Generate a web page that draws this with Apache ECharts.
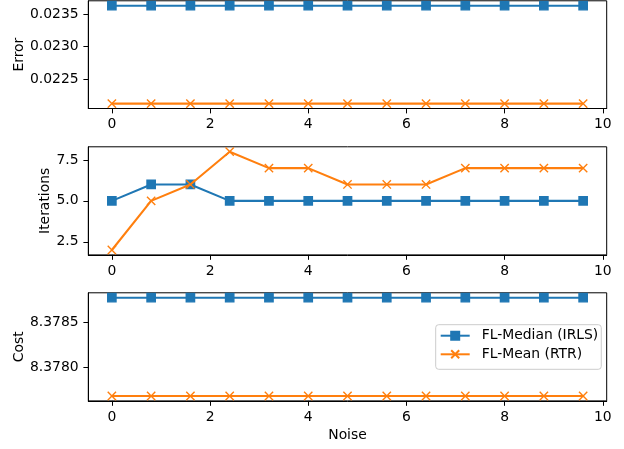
<!DOCTYPE html>
<html>
<head>
<meta charset="utf-8">
<script src="https://cdn.jsdelivr.net/npm/echarts@6/dist/echarts.min.js"></script>
<style>
html,body{margin:0;padding:0;background:#fff;}
#chart{width:624px;height:449px;}
</style>
</head>
<body>
<div id="chart"></div>
<script>
const noise = [0, 0.8, 1.6, 2.4, 3.2, 4.0, 4.8, 5.6, 6.4, 7.2, 8.0, 8.8, 9.6];
const errorIRLS = [0.023628, 0.023628, 0.023628, 0.023628, 0.023628, 0.023628, 0.023628, 0.023628, 0.023628, 0.023628, 0.023628, 0.023628, 0.023628];
const errorRTR = [0.02212, 0.02212, 0.02212, 0.02212, 0.02212, 0.02212, 0.02212, 0.02212, 0.02212, 0.02212, 0.02212, 0.02212, 0.02212];
const itersIRLS = [5, 6, 6, 5, 5, 5, 5, 5, 5, 5, 5, 5, 5];
const itersRTR = [2, 5, 6, 8, 7, 7, 6, 6, 6, 7, 7, 7, 7];
const costIRLS = [8.378775, 8.378775, 8.378775, 8.378775, 8.378775, 8.378775, 8.378775, 8.378775, 8.378775, 8.378775, 8.378775, 8.378775, 8.378775];
const costRTR = [8.377676, 8.377676, 8.377676, 8.377676, 8.377676, 8.377676, 8.377676, 8.377676, 8.377676, 8.377676, 8.377676, 8.377676, 8.377676];

const xTicks = [0, 2, 4, 6, 8, 10];
const errorTicks = [0.0225, 0.0230, 0.0235];
const iterTicks = [2.5, 5.0, 7.5];
const costTicks = [8.3780, 8.3785];

const seriesNames = ['FL-Median (IRLS)', 'FL-Mean (RTR)'];
const yNames = ['Error', 'Iterations', 'Cost'];
const xName = 'Noise';

const BLUE = '#1f77b4', ORANGE = '#ff7f0e';
const FONT = 'DejaVu Sans';
const FS = 13.9;

function lim(a, b) {
  const all = a.concat(b);
  const lo = Math.min(...all), hi = Math.max(...all);
  const m = (hi - lo) * 0.05;
  return [lo - m, hi + m];
}
const xl = [Math.min(...noise) - (Math.max(...noise) - Math.min(...noise)) * 0.05,
            Math.max(...noise) + (Math.max(...noise) - Math.min(...noise)) * 0.05];

const grids = [
  {left: 88.3, right: 17.3, top: 0.8, height: 107.7},
  {left: 88.3, right: 17.3, top: 146.8, height: 108.1},
  {left: 88.3, right: 17.3, top: 292.8, height: 108.1}
].map(g => Object.assign(g, {show: true, borderColor: '#000', borderWidth: 1, backgroundColor: 'transparent',
  containLabel: false, outerBoundsMode: 'none'}));

const axisCommon = {
  axisLine: {show: true, onZero: false, lineStyle: {color: '#000', width: 1}},
  axisTick: {show: true, inside: false, length: 4.9, lineStyle: {color: '#000', width: 1}},
  splitLine: {show: false},
  axisLabel: {color: '#000', fontFamily: FONT, fontSize: FS, hideOverlap: false},
  nameTextStyle: {color: '#000', fontFamily: FONT, fontSize: FS},
  nameMoveOverlap: false
};

function xAxis(i, withName) {
  return Object.assign({}, axisCommon, {
    type: 'value', gridIndex: i, min: xl[0], max: xl[1],
    axisTick: Object.assign({}, axisCommon.axisTick, {customValues: xTicks}),
    axisLabel: Object.assign({}, axisCommon.axisLabel, {customValues: xTicks, margin: 9, formatter: v => String(Math.round(v))}),
    name: withName ? xName : '', nameLocation: 'middle', nameGap: 27
  });
}
function yAxis(i, ticks, l, dec, gap) {
  return Object.assign({}, axisCommon, {
    type: 'value', gridIndex: i, min: l[0], max: l[1],
    axisTick: Object.assign({}, axisCommon.axisTick, {customValues: ticks}),
    axisLabel: Object.assign({}, axisCommon.axisLabel, {customValues: ticks, margin: 9.7, formatter: v => v.toFixed(dec)}),
    name: yNames[i], nameLocation: 'middle', nameRotate: 90, nameGap: gap
  });
}

const xMarker = 'path://M0,0L10,10M10,0L0,10';
function mk(data) { return noise.map((x, i) => [x, data[i]]); }
function sBlue(i, data) {
  return {type: 'line', name: seriesNames[0], xAxisIndex: i, yAxisIndex: i, data: mk(data),
    symbol: 'rect', symbolSize: 8.3, showAllSymbol: true,
    lineStyle: {color: BLUE, width: 2.08},
    itemStyle: {color: BLUE, borderColor: BLUE, borderWidth: 1.4}, z: 2};
}
function sOrange(i, data) {
  return {type: 'line', name: seriesNames[1], xAxisIndex: i, yAxisIndex: i, data: mk(data),
    symbol: xMarker, symbolSize: 8.3, showAllSymbol: true,
    lineStyle: {color: ORANGE, width: 2.08},
    itemStyle: {color: ORANGE, borderColor: ORANGE, borderWidth: 1.4}, z: 3};
}

const chart = echarts.init(document.getElementById('chart'), null, {renderer: 'canvas'});
chart.setOption({
  animation: false,
  backgroundColor: '#fff',
  grid: grids,
  xAxis: [xAxis(0, false), xAxis(1, false), xAxis(2, true)],
  yAxis: [
    yAxis(0, errorTicks, lim(errorIRLS, errorRTR), 4, 62),
    yAxis(1, iterTicks, lim(itersIRLS, itersRTR), 1, 36),
    yAxis(2, costTicks, lim(costIRLS, costRTR), 4, 62)
  ],
  legend: {
    data: seriesNames, orient: 'vertical', left: 435.7, top: 324.7,
    padding: [4, 3, 8, 4], itemWidth: 29, itemHeight: 10, itemGap: 4.6,
    textStyle: {color: '#000', fontFamily: FONT, fontSize: FS, lineHeight: 14, padding: [0, 0, 0, 7]},
    backgroundColor: 'rgba(255,255,255,0.8)', borderColor: '#cccccc', borderWidth: 1, borderRadius: 3,
    selectedMode: false
  },
  series: [
    sBlue(0, errorIRLS), sOrange(0, errorRTR),
    sBlue(1, itersIRLS), sOrange(1, itersRTR),
    sBlue(2, costIRLS), sOrange(2, costRTR)
  ]
});
</script>
</body>
</html>
